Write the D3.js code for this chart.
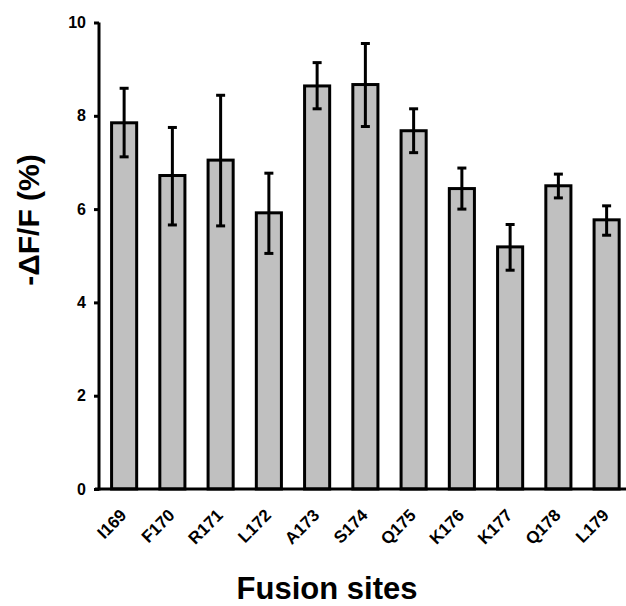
<!DOCTYPE html>
<html>
<head>
<meta charset="utf-8">
<script src="https://cdn.jsdelivr.net/npm/d3@7"></script>
<style>
  body { margin: 0; background: #fff; }
  text { font-family: Arial, "Liberation Sans", sans-serif; font-weight: bold; }
</style>
</head>
<body>
<div id="chart"></div>
<script>
// Fusion site bar chart with error bars

const sites = ["I169", "F170", "R171", "L172", "A173", "S174", "Q175", "K176", "K177", "Q178", "L179"];
const means = [7.85, 6.72, 7.05, 5.92, 8.64, 8.67, 7.68, 6.44, 5.19, 6.50, 5.77];
const errUp = [8.59, 7.75, 8.44, 6.77, 9.14, 9.55, 8.15, 6.88, 5.67, 6.75, 6.07];
const errDown = [7.12, 5.66, 5.64, 5.05, 8.15, 7.77, 7.21, 6.00, 4.69, 6.24, 5.44];
const yTicks = [0, 2, 4, 6, 8, 10];

const data = sites.map((s, i) => ({ site: s, mean: means[i], hi: errUp[i], lo: errDown[i] }));

const W = 626, H = 606;

const svg = d3.select("#chart")
  .append("svg")
  .attr("width", W)
  .attr("height", H);

// Scales
const x = d3.scaleBand()
  .domain(sites)
  .range([100, 100 + sites.length * 48.25])
  .paddingInner(0.48)
  .paddingOuter(0.24);

const y = d3.scaleLinear()
  .domain([0, 10])
  .range([489, 22.5]);

const cx = d => x(d) + x.bandwidth() / 2;

// Bars
svg.selectAll("rect.bar")
  .data(data)
  .enter()
  .append("rect")
  .attr("class", "bar")
  .attr("x", d => x(d.site))
  .attr("y", d => y(d.mean))
  .attr("width", x.bandwidth())
  .attr("height", d => y(0) - y(d.mean))
  .attr("fill", "#c0c0c0")
  .attr("stroke", "#000")
  .attr("stroke-width", 3);

// Error bars
const err = svg.selectAll("g.err")
  .data(data)
  .enter()
  .append("g")
  .attr("class", "err")
  .attr("stroke", "#000")
  .attr("stroke-width", 3);

err.append("line")
  .attr("x1", d => cx(d.site))
  .attr("x2", d => cx(d.site))
  .attr("y1", d => y(d.lo))
  .attr("y2", d => y(d.hi));

err.append("line")
  .attr("x1", d => cx(d.site) - 4.5)
  .attr("x2", d => cx(d.site) + 4.5)
  .attr("y1", d => y(d.hi))
  .attr("y2", d => y(d.hi));

err.append("line")
  .attr("x1", d => cx(d.site) - 4.5)
  .attr("x2", d => cx(d.site) + 4.5)
  .attr("y1", d => y(d.lo))
  .attr("y2", d => y(d.lo));

// Y axis
const yAxis = svg.append("g")
  .attr("transform", "translate(99,0)")
  .call(d3.axisLeft(y).tickValues(yTicks).tickSize(5).tickPadding(8));

yAxis.select(".domain")
  .attr("d", `M0,${y(10)}V${y(0) + 1.5}`)
  .attr("stroke-width", 3);
yAxis.selectAll(".tick line").attr("stroke-width", 3);
yAxis.selectAll(".tick text")
  .style("font-size", "16px")
  .attr("fill", "#000");

// X axis line
svg.append("line")
  .attr("x1", 95)
  .attr("x2", 626)
  .attr("y1", y(0))
  .attr("y2", y(0))
  .attr("stroke", "#000")
  .attr("stroke-width", 3);

// X tick labels, rotated 45 degrees
svg.selectAll("text.xlab")
  .data(sites)
  .enter()
  .append("text")
  .attr("class", "xlab")
  .attr("transform", d => `translate(${cx(d) - 5},508) rotate(-45)`)
  .attr("text-anchor", "end")
  .attr("dy", "0.7em")
  .attr("fill", "#000")
  .style("font-size", "17px")
  .text(d => d);

// Axis titles
svg.append("text")
  .attr("transform", "translate(39,220) rotate(-90)")
  .attr("text-anchor", "middle")
  .style("font-size", "30px")
  .text("-ΔF/F (%)");

svg.append("text")
  .attr("x", 327)
  .attr("y", 599)
  .attr("text-anchor", "middle")
  .style("font-size", "31px")
  .text("Fusion sites");
</script>
</body>
</html>
